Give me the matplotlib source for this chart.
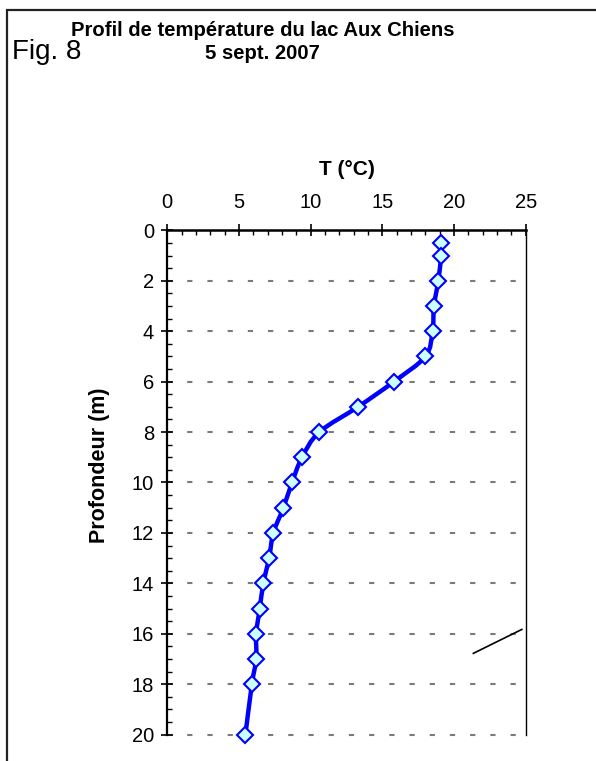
import numpy as np
import matplotlib
matplotlib.use("Agg")
import matplotlib.pyplot as plt
from matplotlib.path import Path
from matplotlib.patches import PathPatch, Rectangle

plt.rcParams['font.family'] = ['Liberation Sans', 'DejaVu Sans']

# Data
depth_m = [0.5, 1, 2, 3, 4, 5, 6, 7, 8, 9, 10, 11, 12, 13, 14, 15, 16, 17, 18, 20]
temp_c = [19.1, 19.1, 18.9, 18.6, 18.5, 18.0, 15.8, 13.3, 10.6, 9.4,
          8.7, 8.1, 7.4, 7.1, 6.7, 6.45, 6.2, 6.2, 5.9, 5.45]
x_ticks = [0, 5, 10, 15, 20, 25]
y_ticks = [0, 2, 4, 6, 8, 10, 12, 14, 16, 18, 20]
title = "Profil de température du lac Aux Chiens"
subtitle = "5 sept. 2007"
fig_label = "Fig. 8"
xlabel = "T (°C)"
ylabel = "Profondeur (m)"
stray_x = [21.35, 24.73]
stray_y = [16.78, 15.83]

W, H = 596, 761
fig = plt.figure(figsize=(W / 100, H / 100), dpi=100)
ax = fig.add_axes([167.3 / W, 1 - 734.5 / H, (525.7 - 167.3) / W, (734.5 - 230.5) / H])

ax.set_xlim(0, 25)
ax.set_ylim(20, 0)

# grid
for yv in y_ticks[1:]:
    ax.plot([0, 25], [yv, yv], color='#7a7a7a', lw=1.5, dashes=(2.5, 7.2),
            clip_on=False, zorder=1)

# smoothed line (Excel style Bezier)
pts = np.column_stack([temp_c, depth_m])
verts = [tuple(pts[0])]
codes = [Path.MOVETO]
n = len(pts)
for i in range(n - 1):
    p0 = pts[i - 1] if i > 0 else pts[i]
    p1 = pts[i]
    p2 = pts[i + 1]
    p3 = pts[i + 2] if i + 2 < n else pts[i + 1]
    c1 = p1 + (p2 - p0) / 6
    c2 = p2 - (p3 - p1) / 6
    verts += [tuple(c1), tuple(c2), tuple(p2)]
    codes += [Path.CURVE4] * 3
ax.add_patch(PathPatch(Path(verts, codes), facecolor='none', edgecolor='#0000ff',
                       lw=3.2, zorder=3, clip_on=False))
ax.plot(temp_c, depth_m, linestyle='none', marker='D', ms=8.5,
        mfc='#ccffff', mec='#0000ff', mew=1.5, zorder=4, clip_on=False)

ax.plot(stray_x, stray_y, color='black', lw=1.2, zorder=2)

# axes styling
ax.spines['bottom'].set_visible(False)
for s in ['top', 'left', 'right']:
    ax.spines[s].set_color('black')
ax.spines['top'].set_linewidth(1.8)
ax.spines['left'].set_linewidth(1.6)
ax.spines['right'].set_linewidth(1.0)

ax.xaxis.set_ticks_position('top')
ax.xaxis.set_label_position('top')
ax.set_xticks(x_ticks)
ax.set_xticks(np.arange(0, 25.01, 1), minor=True)
ax.set_yticks(y_ticks)
ax.set_yticks(np.arange(0, 20.01, 0.5), minor=True)
ax.tick_params(axis='both', which='major', direction='inout', length=9, width=1.2,
               labelsize=14.5, colors='black')
ax.tick_params(axis='both', which='minor', direction='in', length=3.8, width=1.0)
ax.tick_params(axis='x', which='major', pad=9)
ax.tick_params(axis='y', which='major', pad=5)

ax.set_xlabel(xlabel, fontsize=15, fontweight='bold', labelpad=13)
ax.set_ylabel(ylabel, fontsize=15.5, fontweight='bold')
ax.yaxis.set_label_coords(-0.16, 0.535)

fig.text(263 / W, 1 - 36 / H, title, fontsize=14.6, fontweight='bold', ha='center',
         va='baseline')
fig.text(262 / W, 1 - 59 / H, subtitle, fontsize=14.6, fontweight='bold', ha='center',
         va='baseline')
fig.text(12 / W, 1 - 59 / H, fig_label, fontsize=20, ha='left', va='baseline')

# outer frame
fig.patches.append(Rectangle((7.5 / W, -0.05), 1.2, 1 - 9.5 / H + 0.05,
                             transform=fig.transFigure, fill=False,
                             edgecolor='#222222', lw=1.6))

fig.savefig('out.png', dpi=100)
